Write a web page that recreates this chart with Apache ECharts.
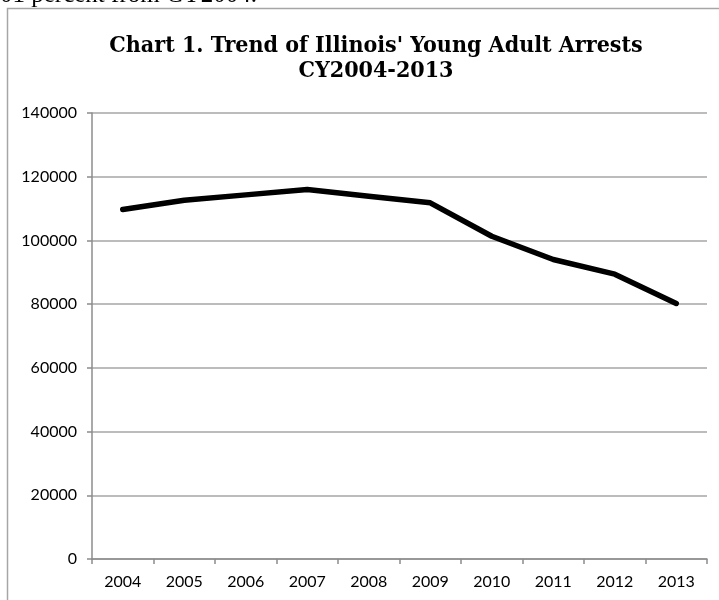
<!DOCTYPE html>
<html>
<head>
<meta charset="utf-8">
<script src="https://cdn.jsdelivr.net/npm/echarts@6/dist/echarts.min.js"></script>
<style>html,body{margin:0;padding:0;background:#fff;}#c{width:719px;height:600px;}</style>
</head>
<body>
<div id="c"></div>
<script>
const years = ['2004','2005','2006','2007','2008','2009','2010','2011','2012','2013'];
const arrests = [109700, 112600, 114300, 116000, 113900, 111800, 101300, 94000, 89400, 80200];
const yTicks = [0, 20000, 40000, 60000, 80000, 100000, 120000, 140000];

const chart = echarts.init(document.getElementById('c'), null, {renderer: 'canvas'});
chart.setOption({
  backgroundColor: '#fff',
  animation: false,
  graphic: [
    {type: 'rect', shape: {x: 7.5, y: 8.5, width: 760, height: 640}, style: {fill: 'none', stroke: '#a6a6a6', lineWidth: 1.5}, z: -1},
    {type: 'text', left: 0, top: -17, style: {text: '01 percent from CY2004.', font: '25px "Liberation Serif"', fill: '#000'}}
  ],
  title: {
    text: "Chart 1. Trend of Illinois' Young Adult Arrests\nCY2004-2013",
    left: 371, top: 29, textAlign: 'center',
    textStyle: {fontFamily: '"DejaVu Serif Condensed", "Liberation Serif", serif', fontWeight: 'bold', fontSize: 23, lineHeight: 25, color: '#000'}
  },
  grid: {left: 92, right: 12, top: 113, bottom: 41, containLabel: false},
  xAxis: {
    type: 'category', data: years, boundaryGap: true,
    axisLine: {lineStyle: {color: '#8c8c8c', width: 1.5}},
    axisTick: {show: true, length: 5, alignWithLabel: false, lineStyle: {color: '#8c8c8c', width: 1.5}},
    axisLabel: {fontFamily: 'Lato, "Open Sans", sans-serif', fontSize: 16, color: '#000', margin: 15}
  },
  yAxis: {
    type: 'value', min: yTicks[0], max: yTicks[yTicks.length - 1], interval: yTicks[1] - yTicks[0],
    axisLine: {show: true, lineStyle: {color: '#8c8c8c', width: 1.5}},
    axisTick: {show: true, length: 5, lineStyle: {color: '#8c8c8c', width: 1.5}},
    axisLabel: {fontFamily: 'Lato, "Open Sans", sans-serif', fontSize: 16, color: '#000', margin: 15, formatter: v => String(v)},
    splitLine: {lineStyle: {color: '#a6a6a6', width: 1.5}}
  },
  series: [{
    type: 'line', data: arrests, showSymbol: false, symbol: 'none',
    lineStyle: {color: '#000', width: 5.5, cap: 'round', join: 'round'}
  }]
});
</script>
</body>
</html>
